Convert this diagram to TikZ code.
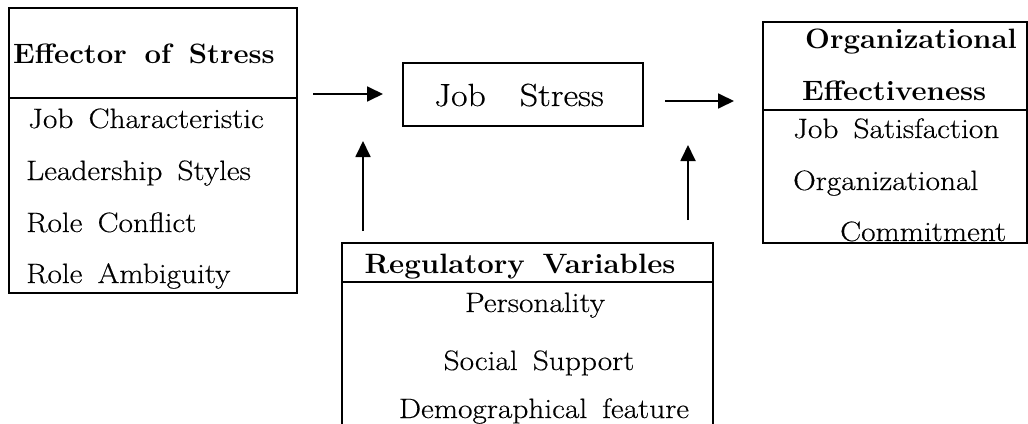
\documentclass[tikz,border=0pt]{standalone}
\usepackage{fontspec}
\setmainfont{Latin Modern Roman}[WordSpace=1.6,
  UprightFeatures={FakeStretch=1.12,FakeBold=0.4},
  BoldFeatures={FakeStretch=1.05}]
\usetikzlibrary{arrows.meta}
\begin{document}
\begin{tikzpicture}[x=1pt,y=-1pt,
 box/.style={draw,line width=1.5pt,inner sep=0pt,outer sep=0pt},
 txt/.style={inner sep=0pt,anchor=base west,font=\fontsize{28}{34}\selectfont},
 hd/.style={inner sep=0pt,anchor=base west,font=\fontsize{28}{34}\selectfont\bfseries},
 divider/.style={line width=1.5pt},
 arr/.style={line width=1.8pt,-{Triangle[length=16pt,width=15pt]}}]
\useasboundingbox (0,0) rectangle (1028,423);
\clip (0,0) rectangle (1028,423);
% boxes
\node[box,minimum width=288pt,minimum height=285pt] (eff) at (153,150.5) {};
\node[box,minimum width=240pt,minimum height=63pt] (js) at (523,94.5) {};
\node[box,minimum width=264pt,minimum height=221pt] (oe) at (895,132.5) {};
\node[box,minimum width=371pt,minimum height=197pt] (rv) at (527.5,341.5) {};
% dividers
\coordinate (effdl) at (9,98); \coordinate (effdr) at (297,98);
\draw[divider] (effdl) -- (effdr);
\coordinate (oedl) at (763,110); \coordinate (oedr) at (1027,110);
\draw[divider] (oedl) -- (oedr);
\coordinate (rvdl) at (342,282); \coordinate (rvdr) at (713,282);
\draw[divider] (rvdl) -- (rvdr);
% texts
\node[hd] (effh) at (13,63) {Effector of Stress};
\node[txt] (eff1) at (28,128) {Job Characteristic};
\node[txt] (eff2) at (26,180) {Leadership Styles};
\node[txt] (eff3) at (26,232) {Role Conflict};
\node[txt] (eff4) at (26,283) {Role Ambiguity};
\node[txt,font=\fontsize{32}{38}\selectfont] (jst) at (434,106) {Job\hspace{34pt}Stress};
\node[hd] (oeh1) at (805,48) {Organizational};
\node[hd] (oeh2) at (802,100) {Effectiveness};
\node[txt] (oe1) at (793,138) {Job Satisfaction};
\node[txt] (oe2) at (793,190) {Organizational};
\node[txt] (oe3) at (840,241) {Commitment};
\node[hd,anchor=base] (rvh) at (520,273) {Regulatory Variables};
\node[txt,anchor=base] (rv1) at (535,312) {Personality};
\node[txt,anchor=base] (rv2) at (539,370) {Social Support};
\node[txt,anchor=base] (rv3) at (544,418) {Demographical feature};
% arrows
\coordinate (a1s) at (313,94); \coordinate (a1e) at (383,94);
\draw[arr] (a1s) -- (a1e);
\coordinate (a2s) at (665,101); \coordinate (a2e) at (734,101);
\draw[arr] (a2s) -- (a2e);
\coordinate (a3s) at (363,231); \coordinate (a3e) at (363,141);
\draw[arr] (a3s) -- (a3e);
\coordinate (a4s) at (688,220); \coordinate (a4e) at (688,145);
\draw[arr] (a4s) -- (a4e);
\end{tikzpicture}
\end{document}
